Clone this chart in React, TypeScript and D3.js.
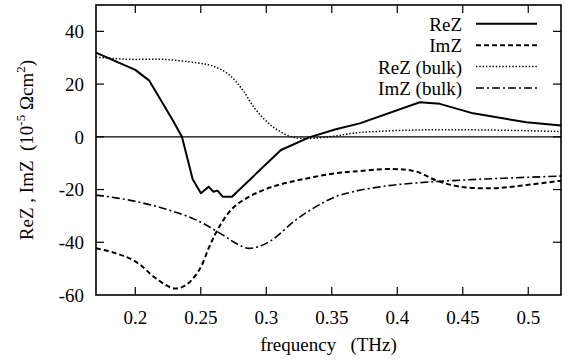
import React from "react";
import * as d3 from "d3";

const W = 573;
const H = 364;

// ---- data ----
const xTicks = [0.2, 0.25, 0.3, 0.35, 0.4, 0.45, 0.5];
const yTicks = [-60, -40, -20, 0, 20, 40];

const freqRe = [0.17, 0.2, 0.2107, 0.2285, 0.2356, 0.2438, 0.2501, 0.256, 0.2595, 0.2628, 0.2667, 0.2738, 0.3112, 0.3328, 0.3531, 0.3714, 0.4172, 0.4325, 0.4579, 0.4986, 0.5253];
const reZ = [31.9, 25.4, 21.3, 6.4, 0.05, -16.1, -21.4, -18.9, -20.8, -20.4, -22.7, -22.7, -5.0, -0.2, 2.9, 5.1, 13.1, 12.5, 8.9, 5.5, 4.3];

const freqIm = [0.17, 0.1853, 0.2005, 0.2158, 0.2297, 0.2387, 0.2488, 0.2565, 0.2641, 0.2743, 0.287, 0.3048, 0.3277, 0.3531, 0.3663, 0.3969, 0.4147, 0.43, 0.4478, 0.4732, 0.4986, 0.5253];
const imZ = [-42.3, -44.2, -47.4, -53.7, -57.5, -56.2, -50.5, -41.7, -34.1, -27.1, -22.7, -18.9, -16.1, -13.8, -13.2, -12.2, -13.2, -16.6, -18.9, -19.5, -18.3, -16.6];

const freqReB = [0.17, 0.1954, 0.221, 0.2463, 0.259, 0.2717, 0.2819, 0.2921, 0.3048, 0.3175, 0.3277, 0.348, 0.371, 0.417, 0.468, 0.525];
const reZB = [30.2, 29.4, 29.4, 28.1, 26.9, 23.5, 17.8, 10.2, 3.9, 0.3, -0.6, 0, 1.6, 2.6, 2.6, 2.0];

const freqImB = [0.17, 0.1954, 0.221, 0.2463, 0.2667, 0.2768, 0.287, 0.3022, 0.3226, 0.3379, 0.3531, 0.3663, 0.3918, 0.4172, 0.4426, 0.4808, 0.5253];
const imZB = [-22.1, -24, -27.1, -31.5, -37.2, -40.4, -42.3, -39.8, -31.5, -26.5, -22.7, -20.8, -18.6, -17.4, -16.6, -15.7, -14.9];

const seriesNames = ["ReZ", "ImZ", "ReZ (bulk)", "ImZ (bulk)"];

// ---- layout ----
const left = 96;
const right = 561;
const top = 5;
const bottom = 295;
const FS = 19;
const fontStyle = {
  fontFamily:
    '"Liberation Serif", Tinos, "Noto Serif", "DejaVu Serif", "Times New Roman", Times, serif',
};

export default function App() {
  const x = d3.scaleLinear().domain([0.17, 0.525]).range([left, right]);
  const y = d3.scaleLinear().domain([-60, 50]).range([bottom, top]);

  const lin = d3
    .line<[number, number]>()
    .x((d) => x(d[0]))
    .y((d) => y(d[1]))
    .curve(d3.curveLinear);
  const smooth = d3
    .line<[number, number]>()
    .x((d) => x(d[0]))
    .y((d) => y(d[1]))
    .curve(d3.curveCatmullRom.alpha(0.5));

  const zip = (a: number[], b: number[]) => a.map((v, i) => [v, b[i]] as [number, number]);

  const styles = [
    { d: lin(zip(freqRe, reZ)), dash: "none", w: 2 },
    { d: smooth(zip(freqIm, imZ)), dash: "5,3", w: 2 },
    { d: smooth(zip(freqReB, reZB)), dash: "1.4,1.9", w: 1.5 },
    { d: smooth(zip(freqImB, imZB)), dash: "8,3,2,3", w: 1.6 },
  ];

  const tickLen = 8;
  const fmt = d3.format("");

  return (
    <svg
      width={W}
      height={H}
      viewBox={`0 0 ${W} ${H}`}
      style={{ position: "absolute", left: 0, top: 0, background: "#fff", ...fontStyle }}
    >
      <rect x={0} y={0} width={W} height={H} fill="#fff" />
      <defs>
        <clipPath id="plotclip">
          <rect x={left} y={top} width={right - left} height={bottom - top} />
        </clipPath>
      </defs>

      {/* zero line */}
      <line x1={left} x2={right} y1={y(0)} y2={y(0)} stroke="#000" strokeWidth={1.2} />

      {/* curves */}
      <g clipPath="url(#plotclip)">
        {styles.map((s, i) => (
          <path
            key={i}
            d={s.d || ""}
            fill="none"
            stroke="#000"
            strokeWidth={s.w}
            strokeDasharray={s.dash}
            strokeLinejoin="round"
          />
        ))}
      </g>

      {/* ticks */}
      {xTicks.map((t) => (
        <g key={"x" + t}>
          <line x1={x(t)} x2={x(t)} y1={bottom} y2={bottom - tickLen} stroke="#000" strokeWidth={1.2} />
          <line x1={x(t)} x2={x(t)} y1={top} y2={top + tickLen} stroke="#000" strokeWidth={1.2} />
          <text x={x(t)} y={324} textAnchor="middle" fontSize={FS} fill="#000" style={fontStyle}>
            {fmt(t)}
          </text>
        </g>
      ))}
      {yTicks.map((t) => (
        <g key={"y" + t}>
          {t > -60 && (
            <>
              <line x1={left} x2={left + tickLen} y1={y(t)} y2={y(t)} stroke="#000" strokeWidth={1.2} />
              <line x1={right} x2={right - tickLen} y1={y(t)} y2={y(t)} stroke="#000" strokeWidth={1.2} />
            </>
          )}
          <text x={84} y={y(t)} dy="0.36em" textAnchor="end" fontSize={FS} fill="#000" style={fontStyle}>
            {t}
          </text>
        </g>
      ))}

      {/* frame */}
      <rect x={left} y={top} width={right - left} height={bottom - top} fill="none" stroke="#000" strokeWidth={1.6} />

      {/* legend */}
      {seriesNames.map((name, i) => {
        const ly = 23.8 + i * 21.4;
        return (
          <g key={name}>
            <text x={462} y={ly + 7} textAnchor="end" fontSize={FS} fill="#000" style={fontStyle}>
              {name}
            </text>
            <line
              x1={476}
              x2={537}
              y1={ly}
              y2={ly}
              stroke="#000"
              strokeWidth={styles[i].w}
              strokeDasharray={styles[i].dash}
            />
          </g>
        );
      })}

      {/* axis titles */}
      <text
        x={(left + right) / 2}
        y={351}
        textAnchor="middle"
        fontSize={FS}
        fill="#000"
        style={{ ...fontStyle, whiteSpace: "pre" }}
      >
        {"frequency   (THz)"}
      </text>
      <text
        transform={`translate(33,${(top + bottom) / 2}) rotate(-90)`}
        textAnchor="middle"
        fontSize={FS}
        fill="#000"
        style={{ ...fontStyle, whiteSpace: "pre" }}
      >
        {"ReZ , ImZ  (10"}
        <tspan fontSize={13} dy={-8}>{"-5"}</tspan>
        <tspan dy={8}>{" Ωcm"}</tspan>
        <tspan fontSize={13} dy={-8}>{"2"}</tspan>
        <tspan dy={8}>{")"}</tspan>
      </text>
    </svg>
  );
}
